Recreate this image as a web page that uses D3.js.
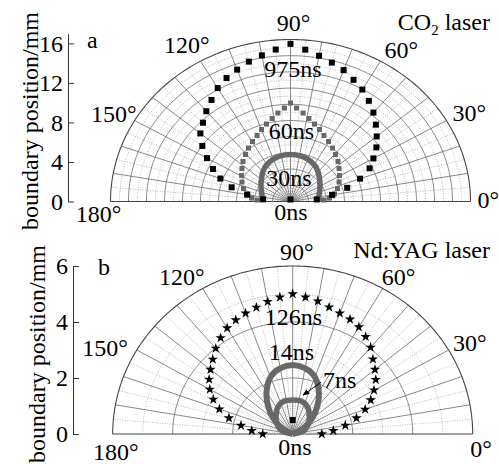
<!DOCTYPE html>
<html>
<head>
<meta charset="utf-8">
<script src="https://cdn.jsdelivr.net/npm/d3@7/dist/d3.min.js"></script>
<style>
  body { margin: 0; background: #fff; }
  svg text { font-family: 'Liberation Serif', 'Times New Roman', Times, 'DejaVu Serif', serif !important; fill: #000; }
</style>
</head>
<body>
<svg id="chart" width="499" height="464"></svg>
<script>
// ---- panel a (CO2 laser): angle in degrees, radius in mm ----
const theta975 = [5, 10, 15, 20, 25, 30, 35, 40, 45, 50, 55, 60, 65, 70, 75, 80, 85, 90,
                  95, 100, 105, 110, 115, 120, 125, 130, 135, 140, 145, 150, 155, 160, 165, 170, 175]
const r975 = [2.4, 3.85, 5.35, 6.75, 7.95, 8.72, 9.55, 10.25, 11.0, 11.75, 12.44, 13.09, 13.59, 14.15, 14.56, 14.98, 15.43, 15.96,
              15.44, 15.02, 14.66, 14.21, 13.79, 13.26, 12.55, 11.93, 11.28, 10.72, 9.81, 8.78, 7.79, 6.8, 5.55, 4.0, 2.5]

const theta60 = [2.9, 5.6, 10.7, 17.1, 24, 30.5, 37.1, 43.1, 49.3, 54.7, 60.3, 65.5, 70.1, 74.4, 78.7, 82.7, 86.7, 90,
                 93.3, 97.3, 101.3, 105.6, 109.9, 114.5, 119.7, 125.3, 130.7, 136.9, 142.9, 149.5, 156, 162.9, 169.3, 174.4, 177.1]
const r60 = [3.01, 3.57, 4.08, 4.48, 4.84, 5.18, 5.54, 5.93, 6.28, 6.63, 6.99, 7.34, 7.75, 8.14, 8.57, 9.03, 9.48, 9.97,
             9.48, 9.03, 8.57, 8.14, 7.75, 7.34, 6.99, 6.63, 6.28, 5.93, 5.54, 5.18, 4.84, 4.48, 4.08, 3.57, 3.01]

const theta30 = [1, 6.7, 19, 31.1, 41.4, 50.6, 59.3, 68.2, 78.8, 90, 101.2, 111.8, 120.7, 129.4, 138.6, 148.9, 161, 173.3, 179]
const r30 = [2.46, 2.57, 2.79, 3.14, 3.52, 3.94, 4.29, 4.52, 4.70, 4.76, 4.70, 4.52, 4.29, 3.94, 3.52, 3.14, 2.79, 2.57, 2.46]

const theta0a = [90]
const r0a = [0.2]

// ---- panel b (Nd:YAG laser) ----
const theta126 = [0, 5, 10, 15, 20, 25, 30, 35, 40, 45, 50, 55, 60, 65, 70, 75, 80, 85, 90,
                  95, 100, 105, 110, 115, 120, 125, 130, 135, 140, 145, 150, 155, 160, 165, 170, 175, 180]
const r126 = [0.97, 1.36, 1.78, 2.2, 2.57, 2.87, 3.13, 3.38, 3.58, 3.78, 4.04, 4.24, 4.41, 4.52, 4.59, 4.69, 4.82, 4.9, 5.0,
              4.9, 4.8, 4.68, 4.59, 4.49, 4.37, 4.19, 3.99, 3.77, 3.58, 3.4, 3.19, 2.92, 2.6, 2.2, 1.75, 1.37, 1.0]

const theta14 = [0, 29.4, 37.5, 46.1, 54.6, 62.3, 70.8, 79.8, 90, 100.2, 109.2, 117.7, 125.4, 133.9, 142.5, 150.6, 180]
const r14 = [0, 0.37, 0.70, 1.09, 1.49, 1.85, 2.19, 2.38, 2.46, 2.38, 2.19, 1.85, 1.49, 1.09, 0.70, 0.37, 0]

const theta7 = [0, 17, 32.1, 47.5, 61.3, 74.4, 90, 105.6, 118.7, 132.5, 147.9, 163, 180]
const r7 = [0, 0.37, 0.6, 0.82, 1.06, 1.2, 1.21, 1.2, 1.06, 0.82, 0.6, 0.37, 0]

const theta0b = [90]
const r0b = [0.5]

const degTicks = [0, 30, 60, 90, 120, 150, 180]
const yTicksA = [0, 4, 8, 12, 16]
const yTicksB = [0, 2, 4, 6]

const svg = d3.select('#chart')
const gray = '#686868'
const serif = "'Liberation Serif', 'Times New Roman', Times, serif"

function zip(th, r) { return th.map((t, i) => ({ t: t, r: r[i] })) }

// elliptical polar panel: x and y use their own linear scales
function makePanel(cx, cy, rx, ry, rMax) {
    const sx = d3.scaleLinear().domain([0, rMax]).range([0, rx])
    const sy = d3.scaleLinear().domain([0, rMax]).range([0, ry])
    const p = function(t, r) {
        const a = t * Math.PI / 180
        return [cx + sx(r * Math.cos(a)), cy - sy(r * Math.sin(a))]
    }
    p.cx = cx; p.cy = cy; p.rMax = rMax
    return p
}

function addText(g, x, y, txt, anchor) {
    return g.append('text').attr('x', x).attr('y', y).attr('text-anchor', anchor || 'start')
        .attr('font-size', 24).attr('font-family', serif).text(txt)
}

function drawGrid(g, p, solidRings, dotRings) {
    const arc = d3.line()
    const angs = d3.range(0, 180.5, 1)
    dotRings.forEach(r => {
        g.append('path').attr('d', arc(angs.map(t => p(t, r))))
            .attr('fill', 'none').attr('stroke', '#9a9a9a').attr('stroke-width', 0.7).attr('stroke-dasharray', '1,1.5')
    })
    d3.range(5, 180, 10).forEach(t => {
        g.append('path').attr('d', arc([p(t, 0), p(t, p.rMax)]))
            .attr('fill', 'none').attr('stroke', '#9a9a9a').attr('stroke-width', 0.7).attr('stroke-dasharray', '1,1.5')
    })
    d3.range(10, 180, 10).forEach(t => {
        g.append('path').attr('d', arc([p(t, 0), p(t, p.rMax)]))
            .attr('fill', 'none').attr('stroke', '#6a6a6a').attr('stroke-width', 0.8)
    })
    solidRings.forEach(r => {
        g.append('path').attr('d', arc(angs.map(t => p(t, r))))
            .attr('fill', 'none').attr('stroke', r === p.rMax ? '#444' : '#6a6a6a').attr('stroke-width', r === p.rMax ? 1.1 : 0.8)
    })
    g.append('path').attr('d', arc([p(0, p.rMax), p(180, p.rMax)]))
        .attr('fill', 'none').attr('stroke', '#444').attr('stroke-width', 1)
}

function drawDegLabels(g, p, pos) {
    degTicks.forEach(d => {
        const xy = p(d, p.rMax)
        const o = pos[d]
        addText(g, xy[0] + o[1], xy[1] + o[2], d + '°', o[0])
    })
}

function drawAxis(g, x, y, major, minor, title, titleX, titleY) {
    const ax = g.append('g').attr('transform', 'translate(' + x + ',0)')
    ax.call(d3.axisLeft(y).tickValues(minor).tickSizeInner(-3.5).tickSizeOuter(0).tickFormat(''))
    ax.call(d3.axisLeft(y).tickValues(major).tickSizeInner(-6).tickSizeOuter(0).tickPadding(5).tickFormat(d3.format('d')))
    ax.attr('font-family', serif).attr('font-size', 24)
    ax.selectAll('path, line').attr('stroke', '#333').attr('stroke-width', 1)
    ax.selectAll('text').attr('font-size', 24).attr('font-family', serif).attr('fill', '#000')
    g.append('text').attr('transform', 'translate(' + titleX + ',' + titleY + ') rotate(-90)')
        .attr('text-anchor', 'middle').attr('font-size', 24).attr('font-family', serif).text(title)
}

function squares(g, p, data, size, color) {
    g.selectAll(null).data(data).enter().append('rect')
        .attr('x', d => p(d.t, d.r)[0] - size / 2)
        .attr('y', d => p(d.t, d.r)[1] - size / 2)
        .attr('width', size).attr('height', size).attr('fill', color)
}

function band(g, p, data, width) {
    g.append('path').datum(data)
        .attr('d', d3.line().x(d => p(d.t, d.r)[0]).y(d => p(d.t, d.r)[1]).curve(d3.curveCatmullRom))
        .attr('fill', 'none').attr('stroke', gray).attr('stroke-width', width)
        .attr('stroke-linejoin', 'round')
}

// ================= panel a =================
const ga = svg.append('g')
const pa = makePanel(290.5, 201.5, 180, 162, 16.4)
drawGrid(ga, pa, d3.range(1, 11).map(i => i * 1.64), d3.range(0, 10).map(i => (i + 0.5) * 1.64))
drawDegLabels(ga, pa, {0: ['start', 7, 6], 30: ['start', 6, 0], 60: ['start', 4, -3], 90: ['middle', 3, -9],
                       120: ['end', 9, -8], 150: ['end', 2, 1], 180: ['middle', -12, 20.5]})

const ya = d3.scaleLinear().domain([0, 17]).range([201.5, 33.5])
drawAxis(ga, 68, ya, yTicksA, d3.range(0, 18), 'boundary position/mm', 38, 121)

band(ga, pa, zip(theta30, r30), 5.5)
squares(ga, pa, zip(theta60, r60), 5, gray)
squares(ga, pa, zip(theta975, r975), 6, '#000')
squares(ga, pa, zip(theta0a, r0a), 6, '#000')

addText(ga, 87, 48, 'a')
const co2 = addText(ga, 490, 30, null, 'end')
co2.append('tspan').text('CO')
co2.append('tspan').attr('font-size', 15).attr('dy', 5).text('2')
co2.append('tspan').attr('dy', -5).text(' laser')

const labelsA = [['975ns', 12.6, 2.5], ['60ns', 6.33, 1], ['30ns', 1.57, -1.5], ['0ns', -1.87, 0.5]]
labelsA.forEach(l => addText(ga, pa.cx + l[2], ya(l[1]), l[0], 'middle'))

// ================= panel b =================
const gb = svg.append('g')
const pb = makePanel(292.7, 434, 180, 168, 6)
drawGrid(gb, pb, [2, 4, 6], [1, 3, 5])
drawDegLabels(gb, pb, {0: ['start', -2.5, 23], 30: ['start', 4.5, 1], 60: ['start', -1, -3.5], 90: ['middle', 4, -6],
                       120: ['end', 2, -3.5], 150: ['end', -9, 6], 180: ['middle', 3, 26]})

const yb = d3.scaleLinear().domain([0, 6]).range([434, 266])
drawAxis(gb, 73, yb, yTicksB, d3.range(0, 7), 'boundary position/mm', 45, 354)

band(gb, pb, zip(theta14, r14), 6)
band(gb, pb, zip(theta7, r7), 5.5)
gb.selectAll(null).data(zip(theta126, r126)).enter().append('path')
    .attr('d', d3.symbol(d3.symbolStar, 34))
    .attr('transform', d => 'translate(' + pb(d.t, d.r).join(',') + ')')
    .attr('fill', '#000')
squares(gb, pb, zip(theta0b, r0b), 6, '#000')

addText(gb, 98, 275, 'b')
addText(gb, 490, 258, 'Nd:YAG laser', 'end')

const labelsB = [['126ns', 3.89, 0.7, 'middle'], ['14ns', 2.64, -1.2, 'middle'], ['7ns', 1.64, 30.3, 'start'], ['0ns', -0.75, 2.3, 'middle']]
labelsB.forEach(l => addText(gb, pb.cx + l[2], yb(l[1]), l[0], l[3]))

// arrow from the 7ns label to its curve
svg.append('defs').append('marker').attr('id', 'ah').attr('viewBox', '0 0 10 10')
    .attr('refX', 9).attr('refY', 5).attr('markerWidth', 7).attr('markerHeight', 7).attr('orient', 'auto')
    .append('path').attr('d', 'M0,1L10,5L0,9z').attr('fill', '#000')
const tip = pb(76, 1.43)
const tail = pb(63, 2.08)
gb.append('line').attr('x1', tail[0]).attr('y1', tail[1]).attr('x2', tip[0]).attr('y2', tip[1])
    .attr('stroke', '#000').attr('stroke-width', 1).attr('marker-end', 'url(#ah)')
</script>
</body>
</html>
